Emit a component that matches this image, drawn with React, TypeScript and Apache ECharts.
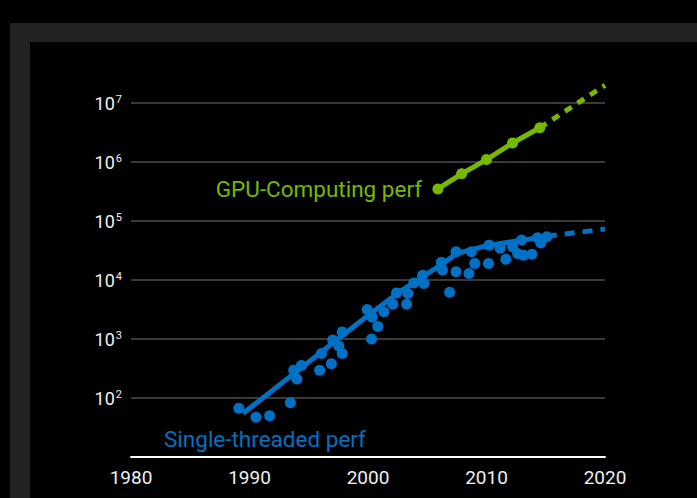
import React, { useEffect, useRef } from "react";
import * as echarts from "echarts";

const xTicks = [1980, 1990, 2000, 2010, 2020];
const yTickExponents = [2, 3, 4, 5, 6, 7];

// Single-threaded CPU perf samples [year, perf]
const cpuPoints: [number, number][] = [
  [1989.1, 67], [1990.55, 47], [1991.7, 50], [1993.45, 83], [1993.73, 295],
  [1994.0, 210], [1994.38, 355], [1995.92, 295], [1996.07, 570], [1996.91, 380],
  [1997.02, 960], [1997.53, 760], [1997.82, 570], [1997.82, 1320], [2000.3, 1000],
  [1999.93, 3170], [2000.36, 2340], [2000.83, 1630], [2001.34, 2890], [2002.1, 3880],
  [2002.41, 6050], [2003.26, 3880], [2003.37, 5900], [2003.87, 8900], [2004.61, 12000],
  [2004.72, 8700], [2006.19, 20000], [2006.28, 14800], [2006.89, 6200], [2007.43, 30000],
  [2007.43, 13800], [2008.52, 12900], [2008.73, 30000], [2009.01, 19000], [2010.22, 39000],
  [2010.17, 19000], [2011.15, 34600], [2011.63, 22400], [2012.2, 36700], [2012.62, 28200],
  [2012.96, 47500], [2013.13, 26300], [2013.83, 27200], [2014.31, 52000], [2014.58, 42500],
  [2015.09, 54000],
];

// CPU trend line
const cpuTrend: [number, number][] = [
  [1989.47, 55], [1999.51, 2100], [2002.46, 5900], [2004.58, 11300], [2006.13, 17800],
  [2007.46, 28000], [2010.19, 39000], [2012.89, 47000], [2015.09, 55000],
];
const cpuProjection: [number, number][] = [[2015.09, 55000], [2020, 73000]];

// GPU computing perf
const gpuPoints: [number, number][] = [
  [2005.9, 350000], [2007.9, 630000], [2010.0, 1100000], [2012.2, 2100000], [2014.5, 3800000],
];
const gpuProjection: [number, number][] = [[2014.5, 3800000], [2020, 20000000]];

const BLUE = "#0071c5";
const GREEN = "#76b900";
const FONT = "Roboto, 'DejaVu Sans', sans-serif";

export default function App() {
  const ref = useRef<HTMLDivElement>(null);
  useEffect(() => {
    document.body.style.margin = "0";
    document.body.style.background = "#000";
    const chart = echarts.init(ref.current!, undefined, { renderer: "svg" });
    chart.setOption({
      animation: false,
      backgroundColor: "#000",
      grid: { left: 131, right: 92, top: 103, bottom: 41 },
      graphic: [
        { type: "rect", z: -10, shape: { x: 10, y: 23, width: 700, height: 480 }, style: { fill: "#222222" }, silent: true },
        { type: "rect", z: -9, shape: { x: 30, y: 42, width: 680, height: 460 }, style: { fill: "#000000" }, silent: true },
        {
          type: "text", x: 422, y: 189,
          style: { text: "GPU-Computing perf", fill: GREEN, font: `22.5px ${FONT}`, align: "right", verticalAlign: "middle" },
        },
        {
          type: "text", x: 164, y: 439,
          style: { text: "Single-threaded perf", fill: BLUE, font: `22.5px ${FONT}`, align: "left", verticalAlign: "middle" },
        },
      ],
      xAxis: {
        type: "value",
        min: xTicks[0],
        max: xTicks[xTicks.length - 1],
        interval: 10,
        axisLine: { show: true, lineStyle: { color: "#ffffff", width: 2 } },
        axisTick: { show: false },
        splitLine: { show: false },
        axisLabel: {
          color: "#f0f0f0",
          fontSize: 19,
          fontFamily: FONT,
          margin: 11,
          formatter: (v: number) => (xTicks.includes(v) ? String(v) : ""),
        },
      },
      yAxis: {
        type: "log",
        logBase: 10,
        min: 10,
        max: 1e7,
        axisLine: { show: false },
        axisTick: { show: false },
        splitLine: { show: true, lineStyle: { color: "#3a3a3a", width: 2 } },
        axisLabel: {
          margin: 9,
          formatter: (v: number) => {
            const e = Math.round(Math.log10(v));
            return yTickExponents.includes(e) ? `{b|10}{s|${e}}` : "";
          },
          rich: {
            b: { color: "#f0f0f0", fontSize: 18, fontFamily: FONT, verticalAlign: "bottom" },
            s: { color: "#f0f0f0", fontSize: 11, fontFamily: FONT, verticalAlign: "top", padding: [0, 0, 8, 1] },
          },
        },
      },
      series: [
        {
          type: "line",
          data: cpuTrend,
          symbol: "none",
          clip: false,
          lineStyle: { color: BLUE, width: 5 },
          z: 3,
        },
        {
          type: "line",
          data: cpuProjection,
          symbol: "none",
          clip: false,
          lineStyle: { color: BLUE, width: 5, type: [10, 8] },
          z: 3,
        },
        {
          type: "scatter",
          data: cpuPoints,
          symbol: "circle",
          symbolSize: 11,
          itemStyle: { color: BLUE, opacity: 1 },
          z: 4,
        },
        {
          type: "line",
          data: gpuPoints,
          symbol: "circle",
          symbolSize: 11,
          showSymbol: true,
          clip: false,
          lineStyle: { color: GREEN, width: 5 },
          itemStyle: { color: GREEN, borderWidth: 0 },
          z: 4,
        },
        {
          type: "line",
          data: gpuProjection,
          symbol: "none",
          clip: false,
          lineStyle: { color: GREEN, width: 5, type: [8, 7] },
          z: 3,
        },
      ],
    });
    return () => chart.dispose();
  }, []);
  return <div ref={ref} style={{ width: 697, height: 498 }} />;
}
